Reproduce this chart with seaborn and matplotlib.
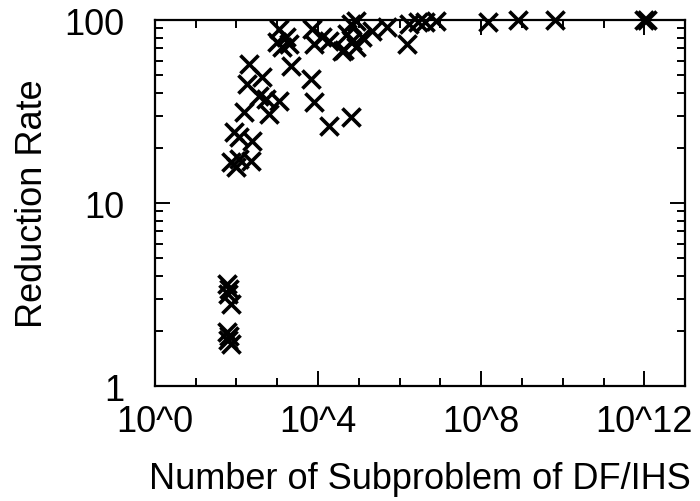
import numpy as np
import pandas as pd
import matplotlib
matplotlib.use("Agg")
import matplotlib.pyplot as plt
import matplotlib.ticker as mticker
import seaborn as sns

sns.set_style("ticks")
plt.rcParams['font.family'] = ['Liberation Sans', 'DejaVu Sans']

# log10 of the number of subproblems
log_subproblems = [
    1.78, 1.83, 1.80, 1.88, 1.78, 1.83, 1.80, 1.88,
    1.88, 2.00, 2.07, 2.37, 1.95, 2.07, 2.39, 2.20, 2.80,
    2.32, 2.63, 2.27, 2.56, 2.73, 3.05, 3.34, 3.83, 3.90, 4.27, 4.80,
    3.05, 3.00, 3.22, 3.12, 3.29, 3.85, 3.90, 4.10, 4.27, 4.59,
    4.80, 4.83, 4.93, 5.07, 5.32, 4.93, 4.71, 4.63,
    5.68, 6.22, 6.17, 6.46, 6.63, 6.88, 8.17, 8.90, 9.80, 12.00, 12.07,
]
reduction_rate = [
    3.6, 3.4, 3.2, 2.8, 1.97, 1.88, 1.78, 1.70,
    16.7, 15.7, 17.4, 16.9, 24.4, 23.0, 21.8, 31.4, 30.6,
    57.5, 48.6, 44.8, 38.4, 37.0, 36.0, 56.0, 47.6, 35.6, 26.3, 29.5,
    89, 76, 81, 71, 74, 89, 74, 81, 77, 68,
    95, 77, 71, 81, 87, 99, 84, 69,
    92, 95, 74, 97.5, 97.5, 99, 97.5, 100, 100, 100, 100,
]

df = pd.DataFrame({
    "subproblems": [10 ** v for v in log_subproblems],
    "rate": reduction_rate,
})

fig = plt.figure(figsize=(7.0, 5.02), dpi=100)
ax = fig.add_axes([0.221, 0.229, 0.758, 0.729])

sns.scatterplot(data=df, x="subproblems", y="rate", marker="x", s=170,
                color="black", linewidth=2.6, ax=ax, zorder=3, clip_on=False)

ax.set_xscale("log")
ax.set_yscale("log")
ax.set_xlim(1, 1e13)
ax.set_ylim(1, 100)

x_major = [1, 1e4, 1e8, 1e12]
ax.xaxis.set_major_locator(mticker.FixedLocator(x_major))
ax.xaxis.set_minor_locator(mticker.FixedLocator([10 ** i for i in range(14)]))
ax.xaxis.set_major_formatter(mticker.FuncFormatter(lambda v, p: f"10^{int(round(np.log10(v)))}"))
ax.xaxis.set_minor_formatter(mticker.NullFormatter())

ax.yaxis.set_major_locator(mticker.FixedLocator([1, 10, 100]))
ax.yaxis.set_minor_locator(mticker.LogLocator(base=10, subs=np.arange(2, 10)))
ax.yaxis.set_major_formatter(mticker.FuncFormatter(lambda v, p: f"{int(v)}"))
ax.yaxis.set_minor_formatter(mticker.NullFormatter())

ax.tick_params(which="both", direction="in", top=True, right=True,
               width=1.4, labelsize=26, colors="black")
ax.tick_params(which="major", length=11)
ax.tick_params(axis="x", which="major", pad=13)
ax.tick_params(axis="y", which="major", pad=22)
ax.tick_params(which="minor", length=6)

for sp in ax.spines.values():
    sp.set_linewidth(1.6)
    sp.set_color("black")

ax.set_xlabel("Number of Subproblem of DF/IHS", fontsize=26, labelpad=16, color="black")
ax.set_ylabel("Reduction Rate", fontsize=26, labelpad=10, color="black")

fig.savefig("out.png", dpi=100)
